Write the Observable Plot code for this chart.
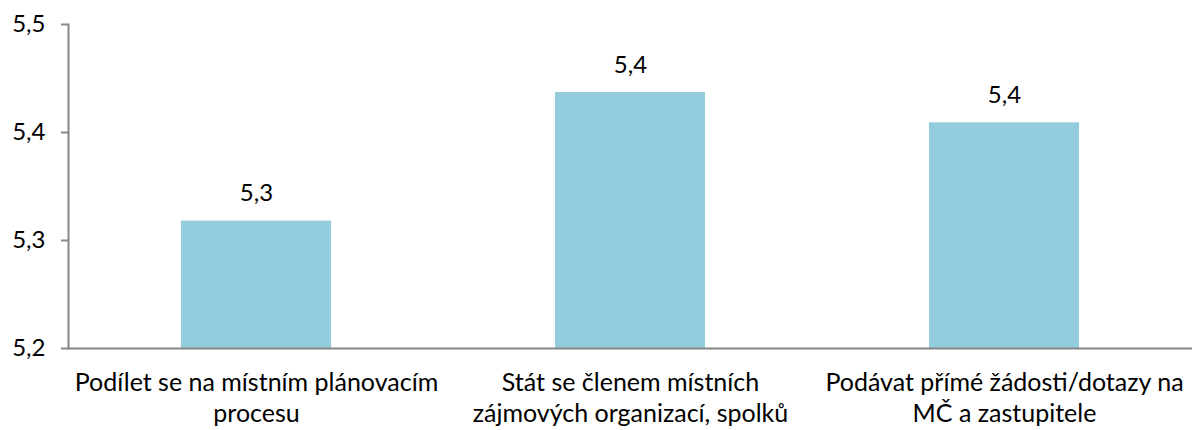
<!DOCTYPE html>
<html><head><meta charset="utf-8">
<script src="https://cdn.jsdelivr.net/npm/d3@7"></script>
<script src="https://cdn.jsdelivr.net/npm/@observablehq/plot@0.6"></script>
<style>body{margin:0;background:#fff;font-family:Lato,"Open Sans",sans-serif}</style>
</head><body><div id="chart"></div>
<script>
const categories = ["Podílet se na místním plánovacím\nprocesu", "Stát se členem místních\nzájmových organizací, spolků", "Podávat přímé žádosti/dotazy na\nMČ a zastupitele"];
const values = [5.318, 5.437, 5.409];
const yTicks = [5.2, 5.3, 5.4, 5.5];
const data = categories.map((c, i) => ({c, v: values[i]}));
const fmt = v => d3.format(".1f")(v).replace(".", ",");
const chart = Plot.plot({
  width: 1192, height: 430,
  marginLeft: 68, marginRight: 0, marginTop: 24, marginBottom: 82,
  style: {fontFamily: "Lato, sans-serif", fontSize: "24px", color: "#000", background: "#fff"},
  x: {domain: categories, paddingInner: 0.6, paddingOuter: 0.3, label: null},
  y: {domain: [5.2, 5.5], label: null},
  marks: [
    Plot.barY(data, {x: "c", y1: 5.2, y2: "v", fill: "#93cddd"}),
    Plot.text(data, {x: "c", y: "v", text: d => fmt(d.v), dy: -20, lineAnchor: "bottom", fontSize: 24, fill: "#000"}),
    Plot.axisY({ticks: yTicks, tickFormat: fmt, tickSize: 7, tickPadding: 16, stroke: "#868686", strokeWidth: 2, fill: "#000", fontSize: 24, label: null}),
    Plot.frame({anchor: "left", stroke: "#868686", strokeWidth: 2}),
    Plot.ruleY([5.2], {stroke: "#868686", strokeWidth: 2}),
    Plot.axisX({tickSize: 0, tickPadding: 21, lineHeight: 1.22, fill: "#000", fontSize: 25, label: null})
  ]
});
document.getElementById("chart").append(chart);
</script></body></html>
